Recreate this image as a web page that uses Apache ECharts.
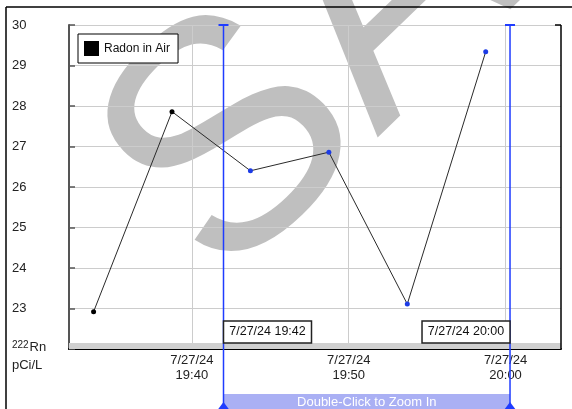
<!DOCTYPE html>
<html><head><meta charset="utf-8">
<script src="https://cdn.jsdelivr.net/npm/echarts@6/dist/echarts.min.js"></script>
<style>html,body{margin:0;padding:0;background:#fff}#c{width:572px;height:409px}</style>
</head><body><div id="c"></div>
<script>
// ---- data ----
const chartDate = [2024, 7, 27];
const sampleTimes = ['19:33:44', '19:38:44', '19:43:44', '19:48:44', '19:53:44', '19:58:44'];
const radonValues = [22.92, 27.86, 26.40, 26.86, 23.11, 29.34];
const xTickTimes = ['19:40', '19:50', '20:00'];
const xRange = ['19:32:10', '20:03:32'];
const yTicks = [22, 23, 24, 25, 26, 27, 28, 29, 30];
const cursorTimes = ['19:42:01', '20:00:17'];
const cursorLabels = ['7/27/24 19:42', '7/27/24 20:00'];
const seriesName = 'Radon in Air';
const unitSup = '222', unitMain = 'Rn', unitLine2 = 'pCi/L';
const bandText = 'Double-Click to Zoom In';
const watermarkText = 'SAMPLE';

// ---- helpers ----
const FONT = 'Liberation Sans, Arial, Helvetica, sans-serif';
const BLUE = '#1f3cff';
function ts(hms) {
  const p = hms.split(':').map(Number);
  return new Date(chartDate[0], chartDate[1] - 1, chartDate[2], p[0], p[1], p[2] || 0).getTime();
}
function pad(n) { return (n < 10 ? '0' : '') + n; }
const yMin = yTicks[0], yMax = yTicks[yTicks.length - 1];
const c0 = ts(cursorTimes[0]), c1 = ts(cursorTimes[1]);

const GRID = { left: 69, right: 11, top: 25, bottom: 60 };
const W = 572, H = 409;
const plotL = GRID.left, plotR = W - GRID.right, plotT = GRID.top, plotB = H - GRID.bottom;

const chart = echarts.init(document.getElementById('c'), null, { renderer: 'canvas' });

const option = {
  animation: false,
  backgroundColor: '#fff',
  textStyle: { fontFamily: FONT },
  grid: { left: GRID.left, right: GRID.right, top: GRID.top, bottom: GRID.bottom, containLabel: false },
  legend: {
    left: 78, top: 34, orient: 'horizontal',
    padding: [7, 8, 7, 6], itemWidth: 15, itemHeight: 15, itemGap: 0,
    borderColor: '#000', borderWidth: 1, backgroundColor: '#fff',
    selectedMode: false,
    textStyle: { fontSize: 12, color: '#111', fontFamily: FONT },
    data: [{ name: seriesName, icon: 'rect', itemStyle: { color: '#000' } }]
  },
  xAxis: {
    type: 'value', scale: true,
    min: ts(xRange[0]), max: ts(xRange[1]),
    axisLine: { show: true, onZero: false, lineStyle: { color: '#000', width: 2 } },
    axisTick: { show: false, customValues: xTickTimes.map(ts) },
    splitLine: { show: true, lineStyle: { color: '#cccccc', width: 1 } },
    axisLabel: {
      customValues: xTickTimes.map(ts),
      margin: 4, fontSize: 13, lineHeight: 15, color: '#222', fontFamily: FONT,
      formatter: function (v) {
        const d = new Date(v);
        return (d.getMonth() + 1) + '/' + d.getDate() + '/' + String(d.getFullYear()).slice(2) + '\n' + pad(d.getHours()) + ':' + pad(d.getMinutes());
      }
    }
  },
  yAxis: {
    type: 'value', min: yMin, max: yMax, interval: 1,
    axisLine: { show: true, lineStyle: { color: '#555', width: 2 } },
    axisTick: { show: true, inside: true, length: 6, lineStyle: { color: '#555', width: 1.5 } },
    splitLine: { show: true, lineStyle: { color: '#cccccc', width: 1 } },
    axisLabel: {
      align: 'left', margin: 57, fontSize: 13, color: '#222', fontFamily: FONT,
      formatter: function (v) { return v === yMin ? '' : String(v); }
    }
  },
  graphic: [
    { type: 'text', x: 159, y: 224, rotation: 44 * Math.PI / 180, z: -100, silent: true,
      style: { text: watermarkText, fontSize: 325, fontFamily: FONT, fill: '#bfbfbf', align: 'left', verticalAlign: 'middle' } },
    { type: 'rect', z: 1, silent: true, shape: { x: plotL, y: plotB - 6, width: plotR - plotL, height: 6 }, style: { fill: '#d0d0d0' } },
    { type: 'line', z: 10, silent: true, shape: { x1: plotR, y1: plotT, x2: plotR, y2: plotB }, style: { stroke: '#000', lineWidth: 1.5 } },
    { type: 'line', z: 10, silent: true, shape: { x1: plotR - 6, y1: plotT, x2: plotR, y2: plotT }, style: { stroke: '#000', lineWidth: 1.5 } },
    { type: 'line', z: 10, silent: true, shape: { x1: 6, y1: 7, x2: W, y2: 7 }, style: { stroke: '#000', lineWidth: 1.5 } },
    { type: 'line', z: 10, silent: true, shape: { x1: 6, y1: 7, x2: 6, y2: H }, style: { stroke: '#000', lineWidth: 1.5 } },
    { type: 'text', z: 10, silent: true, x: 12, y: 340, style: { text: unitSup, fontSize: 10, fontFamily: FONT, fill: '#222', verticalAlign: 'top' } },
    { type: 'text', z: 10, silent: true, x: 29.5, y: 341, style: { text: unitMain, fontSize: 13, fontFamily: FONT, fill: '#222', verticalAlign: 'top' } },
    { type: 'text', z: 10, silent: true, x: 12, y: 359, style: { text: unitLine2, fontSize: 13, fontFamily: FONT, fill: '#222', verticalAlign: 'top' } }
  ],
  series: [
    {
      name: seriesName, type: 'line', z: 3,
      data: sampleTimes.map(function (t, i) { return [ts(t), radonValues[i]]; }),
      symbol: 'circle', symbolSize: 5, showSymbol: true,
      lineStyle: { color: '#2a2a2a', width: 1 },
      itemStyle: {
        color: function (p) { const t = p.data[0]; return (t >= c0 && t <= c1) ? '#1c3be6' : '#000'; },
        borderWidth: 0
      }
    },
    {
      type: 'custom', coordinateSystem: 'cartesian2d', silent: true, clip: false, z: 4,
      data: [[c0, c1]], encode: { x: [0, 1] },
      renderItem: function (params, api) {
        const x1 = api.coord([api.value(0), yMin])[0];
        const x2 = api.coord([api.value(1), yMin])[0];
        const h = api.getHeight();
        return { type: 'group', children: [
          { type: 'rect', shape: { x: x1, y: h - 15, width: x2 - x1, height: 15 }, style: { fill: '#aab0f4' } },
          { type: 'text', style: { x: (x1 + x2) / 2, y: h - 7, text: bandText, align: 'center', verticalAlign: 'middle', fontSize: 13, fontFamily: FONT, fill: '#fff' } }
        ] };
      }
    },
    {
      type: 'custom', coordinateSystem: 'cartesian2d', silent: true, clip: false, z: 5,
      data: cursorTimes.map(function (t, i) { return [ts(t), i]; }), encode: { x: 0 },
      renderItem: function (params, api) {
        const t = api.value(0), idx = api.value(1);
        const top = api.coord([t, yMax]), bot = api.coord([t, yMin]);
        const x = top[0], h = api.getHeight();
        const boxW = 88, boxH = 22;
        const bx = idx === 0 ? x : x - boxW;
        const by = bot[1] - 28;
        return { type: 'group', children: [
          { type: 'line', shape: { x1: x, y1: top[1], x2: x, y2: h }, style: { stroke: BLUE, lineWidth: 1.5 } },
          { type: 'line', shape: { x1: x - 5, y1: top[1], x2: x + 5, y2: top[1] }, style: { stroke: BLUE, lineWidth: 2 } },
          { type: 'polygon', shape: { points: [[x, h - 7], [x - 6, h + 1], [x + 6, h + 1]] }, style: { fill: BLUE } },
          { type: 'rect', shape: { x: bx, y: by, width: boxW, height: boxH }, style: { fill: '#fff', stroke: '#222', lineWidth: 1.5 } },
          { type: 'text', style: { x: bx + boxW / 2, y: by + boxH / 2, text: cursorLabels[idx], align: 'center', verticalAlign: 'middle', fontSize: 12.5, fontFamily: FONT, fill: '#111' } }
        ] };
      }
    }
  ]
};
chart.setOption(option);
</script></body></html>
